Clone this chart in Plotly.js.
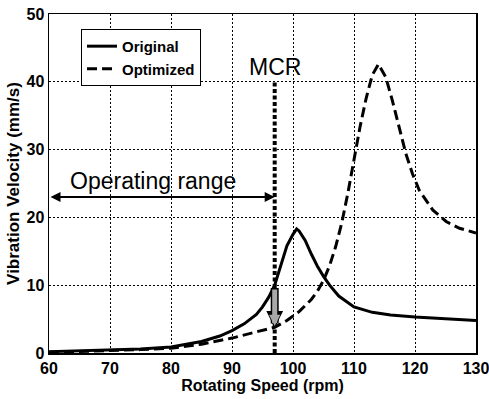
<!DOCTYPE html>
<html>
<head>
<meta charset="utf-8">
<script src="https://cdn.plot.ly/plotly-3.0.1.min.js"></script>
<style>html,body{margin:0;padding:0;background:#fff;}#chart{width:489px;height:399px;}</style>
</head>
<body>
<div id="chart"></div>
<script>
// Original design
var speedOriginal = [60, 65, 70, 75, 80, 85, 88, 90, 92, 94, 95, 96, 97, 98, 99, 100, 100.6, 101, 102, 103, 104, 105, 106, 107.5, 110, 113, 116, 120, 125, 130];
var velOriginal   = [0.2, 0.3, 0.4, 0.6, 0.9, 1.7, 2.5, 3.3, 4.3, 5.7, 6.8, 8.2, 10.0, 13.0, 15.8, 17.5, 18.3, 18.0, 16.6, 14.6, 12.8, 11.3, 10.0, 8.4, 6.8, 6.0, 5.6, 5.3, 5.0, 4.8];
// Optimized design
var speedOptimized = [60, 70, 75, 80, 85, 90, 93, 95, 97, 99, 101, 103, 104, 105, 106, 107, 108, 109, 110, 111, 112, 113, 114, 115.2, 116.3, 117.4, 118.5, 119.6, 120.7, 122.9, 125.1, 127.3, 130];
var velOptimized   = [0.1, 0.3, 0.5, 0.7, 1.3, 2.2, 2.9, 3.3, 3.8, 4.8, 6.1, 7.9, 9.1, 10.7, 12.9, 15.7, 19.2, 23.6, 28.6, 33.4, 37.6, 41.0, 42.6, 40.7, 37.2, 33.3, 29.4, 26.4, 24.0, 21.1, 19.4, 18.4, 17.7];
// MCR marker and operating range
var mcrSpeed = 97;
var mcrLineY = [0, 40];
var operatingStart = 60;
var operatingY = 23;
var operatingLabelX = 77;
var arrowFrom = 9.8;    // original velocity at MCR (arrow tail)
var arrowTo = 3.7;      // optimized velocity at MCR (arrow tip)
var xTicks = [60, 70, 80, 90, 100, 110, 120, 130];
var yTicks = [0, 10, 20, 30, 40, 50];

var sans = '"Liberation Sans", Arial, Helvetica, sans-serif';

var traces = [
  {x: speedOriginal, y: velOriginal, name: 'Original', mode: 'lines',
   line: {color: '#000', width: 3}},
  {x: speedOptimized, y: velOptimized, name: 'Optimized', mode: 'lines',
   line: {color: '#000', width: 3, dash: '10px,5px'}},
  {x: [mcrSpeed, mcrSpeed], y: mcrLineY, mode: 'lines', showlegend: false, hoverinfo: 'skip',
   line: {color: '#000', width: 4, dash: '4px,2.5px'}}
];

var layout = {
  width: 489, height: 399,
  margin: {l: 49, r: 13, t: 14, b: 46},
  paper_bgcolor: '#fff', plot_bgcolor: '#fff',
  showlegend: true,
  legend: {x: 0.075, y: 0.956, xanchor: 'left', yanchor: 'top',
    bgcolor: '#fff', bordercolor: '#000', borderwidth: 1,
    itemwidth: 30, tracegroupgap: 0,
    font: {family: sans, size: 15, weight: 'bold', color: '#000'}},
  xaxis: {range: [60, 130], tickvals: xTicks, ticktext: xTicks.map(String),
    showgrid: true, gridcolor: '#000', gridwidth: 1, griddash: '2px,2px',
    zeroline: false, showline: true, mirror: true, linecolor: '#000', linewidth: 1.5,
    ticks: '', ticklabeloverflow: 'allow',
    tickfont: {family: sans, size: 16, weight: 'bold', color: '#000'},
    title: {text: 'Rotating Speed (rpm)', standoff: 2,
      font: {family: sans, size: 16, weight: 'bold', color: '#000'}}},
  yaxis: {range: [0, 50], tickvals: yTicks, ticktext: yTicks.map(String),
    showgrid: true, gridcolor: '#000', gridwidth: 1, griddash: '2px,2px',
    zeroline: false, showline: true, mirror: true, linecolor: '#000', linewidth: 1.5,
    ticks: '', ticklabeloverflow: 'allow',
    tickfont: {family: sans, size: 16, weight: 'bold', color: '#000'},
    title: {text: 'Vibration Velocity (mm/s)', standoff: 2,
      font: {family: sans, size: 17, weight: 'bold', color: '#000'}}},
  annotations: [
    {x: mcrSpeed, y: mcrLineY[1], xref: 'x', yref: 'y', text: 'MCR', showarrow: false,
     yanchor: 'bottom', yshift: 0, font: {family: sans, size: 23, color: '#000'}},
    {x: mcrSpeed, y: operatingY, ax: operatingStart, ay: operatingY, xref: 'x', yref: 'y',
     axref: 'x', ayref: 'y', text: '', showarrow: true, arrowhead: 2, startarrowhead: 2,
     arrowside: 'end+start', arrowsize: 1, arrowwidth: 2, arrowcolor: '#000'},
    {x: operatingLabelX, y: operatingY, xref: 'x', yref: 'y',
     text: 'Operating range', showarrow: false, yanchor: 'bottom', yshift: 1,
     font: {family: sans, size: 23, color: '#000'}},
    {x: mcrSpeed, y: arrowTo, ax: mcrSpeed, ay: arrowFrom, xref: 'x', yref: 'y',
     axref: 'x', ayref: 'y', text: '', showarrow: true, arrowhead: 2, arrowsize: 0.42,
     arrowwidth: 8, arrowcolor: '#000'},
    {x: mcrSpeed, y: arrowTo + 0.3, ax: mcrSpeed, ay: arrowFrom - 0.2, xref: 'x', yref: 'y',
     axref: 'x', ayref: 'y', text: '', showarrow: true, arrowhead: 2, arrowsize: 0.45,
     arrowwidth: 5, arrowcolor: '#a8a8a8'}
  ]
};

Plotly.newPlot('chart', traces, layout, {staticPlot: true, displayModeBar: false});
</script>
</body>
</html>
